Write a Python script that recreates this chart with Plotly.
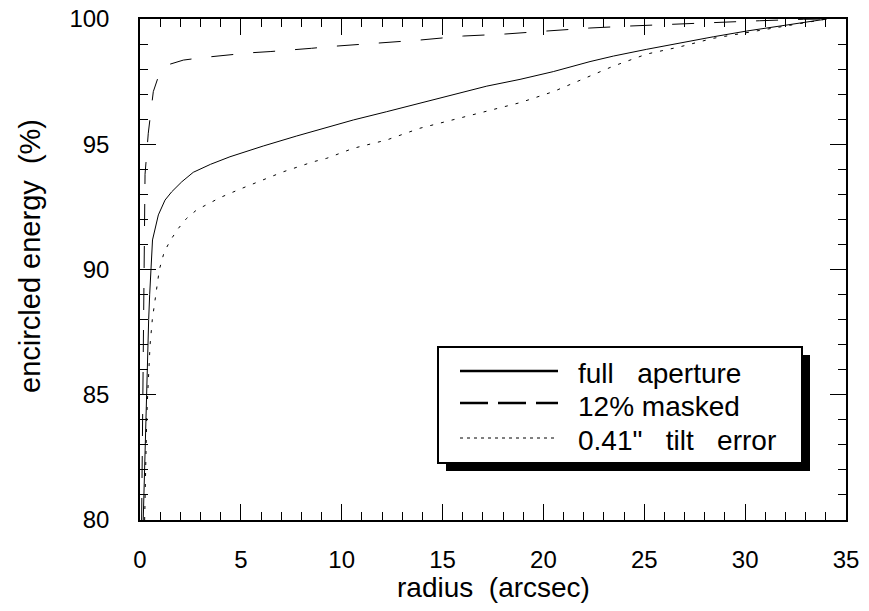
import plotly.graph_objects as go

# ---- data ----
full_x = [0.16, 0.22, 0.33, 0.43, 0.48, 0.53, 0.62, 0.91, 1.24, 1.57, 2.07, 2.64, 3.5, 4.46,
          6.11, 7.77, 9.42, 10.58, 12.23, 13.88, 15.53, 17.19, 18.84, 20.49, 22.31, 23.47,
          25.12, 26.77, 28.42, 30.08, 31.73, 33.0, 34.05]
full_y = [80.0, 82.0, 85.0, 88.0, 89.0, 90.0, 91.18, 92.18, 92.77, 93.1, 93.5, 93.88, 94.2, 94.5,
          94.93, 95.33, 95.7, 95.97, 96.3, 96.63, 96.97, 97.32, 97.59, 97.9, 98.3, 98.52,
          98.79, 99.05, 99.29, 99.52, 99.73, 99.87, 100.0]

mask_x = [0.08, 0.12, 0.16, 0.21, 0.25, 0.3, 0.41, 0.53, 0.66, 0.91, 1.16, 1.5, 2.15, 3.22,
          4.3, 5.45, 6.45, 7.6, 8.5, 9.42, 11.73, 13.88, 16.03, 18.1, 20.16, 22.3, 24.3,
          26.4, 28.6, 30.7, 32.9, 34.05]
mask_y = [80.0, 84.0, 88.0, 91.2, 93.8, 94.3, 95.44, 96.24, 97.1, 97.7, 97.98, 98.2, 98.36, 98.47,
          98.56, 98.65, 98.7, 98.76, 98.83, 98.9, 99.03, 99.16, 99.32, 99.4, 99.52, 99.64, 99.72,
          99.79, 99.88, 99.93, 99.99, 100.0]

tilt_x = [0.23, 0.27, 0.3, 0.33, 0.38, 0.45, 0.5, 0.61, 0.78, 0.96, 1.2, 1.52, 1.9, 2.31, 2.81,
          3.39, 3.97, 4.96, 6.11, 7.1, 8.59, 9.26, 10.58, 12.23, 13.88, 15.53, 17.19, 18.84,
          20.49, 21.98, 23.47, 25.12, 26.77, 28.42, 30.08, 31.73, 33.0, 34.05]
tilt_y = [80.0, 82.0, 83.0, 84.0, 85.0, 86.0, 87.0, 88.0, 89.0, 90.0, 90.7, 91.18, 91.64, 92.04,
          92.38, 92.64, 92.87, 93.21, 93.57, 93.9, 94.3, 94.44, 94.84, 95.17, 95.64, 95.97, 96.3,
          96.66, 97.1, 97.6, 98.12, 98.6, 98.89, 99.23, 99.45, 99.69, 99.86, 100.0]

series_names = ["full\u00a0\u00a0\u00a0aperture", "12%\u00a0masked",
                "0.41\"\u00a0\u00a0\u00a0tilt\u00a0\u00a0\u00a0error"]
x_title = "radius\u00a0\u00a0(arcsec)"
y_title = "encircled\u00a0energy\u00a0\u00a0(%)"
x_ticks = [0, 5, 10, 15, 20, 25, 30, 35]
y_ticks = [80, 85, 90, 95, 100]

FONT = "Liberation Sans, Arial, sans-serif"
W, H = 869, 611
PL, PR, PT, PB = 140, 846, 19, 520   # plot area in page pixels
ML, MT, MR, MB = PL, PT, W - PR, H - PB


def px(xp):
    return (xp - PL) / (PR - PL)


def py(yp):
    return (PB - yp) / (PB - PT)


fig = go.Figure()
fig.add_trace(go.Scatter(x=full_x, y=full_y, mode="lines", name=series_names[0],
                         line=dict(color="black", width=1)))
fig.add_trace(go.Scatter(x=mask_x, y=mask_y, mode="lines", name=series_names[1],
                         line=dict(color="black", width=1, dash="22px,20px")))
fig.add_trace(go.Scatter(x=tilt_x, y=tilt_y, mode="lines", name=series_names[2],
                         line=dict(color="black", width=1, dash="3px,8px")))

axis_common = dict(
    showline=True, linecolor="black", linewidth=1.5, mirror="ticks",
    ticks="inside", ticklen=16, tickwidth=1, tickcolor="black",
    showgrid=False, zeroline=False, ticklabeloverflow="allow",
    tickfont=dict(family=FONT, size=24, color="black"),
)

fig.update_xaxes(range=[0, 35], tickvals=x_ticks, ticktext=[str(v) for v in x_ticks],
                 minor=dict(dtick=1, ticks="inside", ticklen=8, tickcolor="black", showgrid=False),
                 ticklabelstandoff=17, **axis_common)
fig.update_yaxes(range=[80, 100], tickvals=y_ticks, ticktext=[str(v) for v in y_ticks],
                 minor=dict(dtick=1, ticks="inside", ticklen=8, tickcolor="black", showgrid=False),
                 ticklabelstandoff=24, **axis_common)

# ---- legend box with drop shadow ----
bx0, bx1, by0, by1 = 438, 802, 347, 463
sh = 8
shapes = [
    dict(type="rect", xref="paper", yref="paper", x0=px(bx0 + sh), x1=px(bx1 + sh),
         y0=py(by1 + sh), y1=py(by0 + sh), fillcolor="black", line=dict(width=0), layer="above"),
    dict(type="rect", xref="paper", yref="paper", x0=px(bx0), x1=px(bx1),
         y0=py(by1), y1=py(by0), fillcolor="white", line=dict(color="black", width=2), layer="above"),
]
rows = [371, 403, 438]
sample_styles = [dict(width=2.5, dash="solid"), dict(width=2.5, dash="28px,10px"),
                 dict(width=1, dash="3px,4px")]
for yy, st in zip(rows, sample_styles):
    shapes.append(dict(type="line", xref="paper", yref="paper", x0=px(460), x1=px(558),
                       y0=py(yy), y1=py(yy), line=dict(color="black", **st), layer="above"))
annotations = []
text_rows = [373, 406, 440]
for yy, name in zip(text_rows, series_names):
    annotations.append(dict(xref="paper", yref="paper", x=px(576), y=py(yy), text=name,
                            showarrow=False, xanchor="left", yanchor="middle",
                            font=dict(family=FONT, size=28, color="black")))
# axis titles
annotations.append(dict(xref="paper", yref="paper", x=px(493), y=py(587), text=x_title,
                        showarrow=False, xanchor="center", yanchor="middle",
                        font=dict(family=FONT, size=28, color="black")))
annotations.append(dict(xref="paper", yref="paper", x=px(30), y=py(256), text=y_title,
                        showarrow=False, xanchor="center", yanchor="middle", textangle=-90,
                        font=dict(family=FONT, size=29, color="black")))

fig.update_layout(
    width=W, height=H, autosize=False,
    margin=dict(l=ML, r=MR, t=MT, b=MB, autoexpand=False),
    paper_bgcolor="white", plot_bgcolor="white",
    showlegend=False, shapes=shapes, annotations=annotations,
    font=dict(family=FONT, color="black"),
)

fig.write_html("out.html", config={"displayModeBar": False},
               post_script="document.body.style.margin='0px';")
